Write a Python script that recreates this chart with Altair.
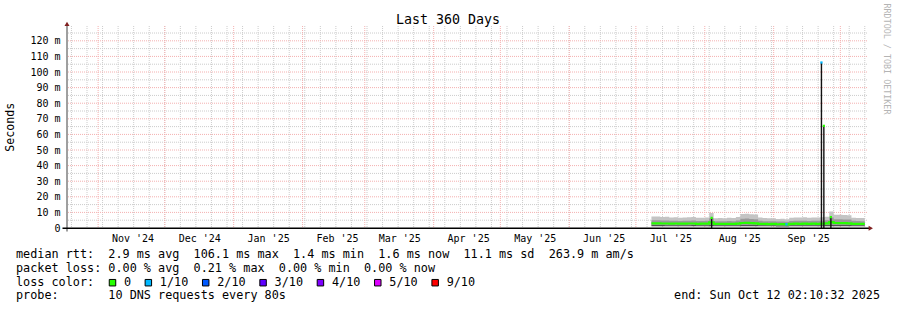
import altair as alt
import pandas as pd

FONT = "DejaVu Sans Mono"

# ---------------- data ----------------
dates = [
    "2025-07-08", "2025-07-10", "2025-07-12", "2025-07-14", "2025-07-16", "2025-07-18",
    "2025-07-20", "2025-07-22", "2025-07-24", "2025-07-26", "2025-07-28", "2025-07-30",
    "2025-08-01", "2025-08-03", "2025-08-05", "2025-08-07", "2025-08-09", "2025-08-11",
    "2025-08-13", "2025-08-15", "2025-08-17", "2025-08-19", "2025-08-21", "2025-08-23",
    "2025-08-25", "2025-08-27", "2025-08-29", "2025-08-31", "2025-09-02", "2025-09-04",
    "2025-09-06", "2025-09-08", "2025-09-10", "2025-09-12", "2025-09-14", "2025-09-16",
    "2025-09-18", "2025-09-20", "2025-09-22", "2025-09-24", "2025-09-26", "2025-09-28",
    "2025-09-30", "2025-10-02", "2025-10-04", "2025-10-06", "2025-10-08", "2025-10-10",
    "2025-10-12",
]
smoke_top_ms = [7.4, 7.3, 7.0, 7.2, 6.8, 6.9, 6.6, 6.8, 6.9, 7.0, 6.5, 6.6,
                6.8, 9.6, 6.2, 6.4, 6.3, 6.5, 6.4, 7.0, 9.0, 9.2, 8.8, 8.6,
                6.8, 6.4, 6.2, 6.3, 5.8, 6.0, 5.6, 6.6, 6.8, 6.7, 6.9, 6.6,
                6.8, 6.7, 6.9, 7.2, 10.6, 8.5, 8.5, 8.4, 8.2, 6.6, 6.4, 6.4, 6.4]
smoke_upper_ms = [5.0, 4.9, 4.8, 4.8, 4.6, 4.7, 4.5, 4.6, 4.7, 4.8, 4.5, 4.5,
                  4.6, 6.2, 4.3, 4.4, 4.4, 4.5, 4.4, 4.8, 5.9, 6.1, 5.8, 5.6,
                  4.6, 4.4, 4.3, 4.3, 4.1, 4.2, 4.0, 4.5, 4.6, 4.6, 4.7, 4.5,
                  4.6, 4.6, 4.7, 4.9, 6.8, 5.6, 5.6, 5.5, 5.4, 4.6, 4.5, 4.4, 4.5]
median_ms = [3.0, 3.0, 2.9, 2.9, 2.8, 2.9, 2.8, 2.8, 2.9, 2.9, 2.7, 2.8,
             2.8, 3.6, 2.6, 2.6, 2.7, 2.6, 2.6, 2.8, 3.2, 3.3, 3.1, 3.0,
             2.7, 2.6, 2.5, 2.6, 2.4, 2.5, 2.3, 2.7, 2.8, 2.7, 2.8, 2.7,
             2.8, 2.7, 2.8, 3.0, 3.8, 3.2, 3.1, 3.1, 3.0, 2.7, 2.6, 2.6, 2.6]
smoke_lower_ms = [1.9, 1.9, 1.9, 1.8, 1.8, 1.8, 1.8, 1.8, 1.8, 1.9, 1.8, 1.8,
                  1.8, 2.0, 1.7, 1.7, 1.7, 1.7, 1.7, 1.8, 1.9, 1.9, 1.9, 1.9,
                  1.8, 1.7, 1.7, 1.7, 1.6, 1.6, 1.6, 1.7, 1.8, 1.8, 1.8, 1.8,
                  1.8, 1.8, 1.8, 1.9, 2.0, 1.9, 1.9, 1.9, 1.9, 1.8, 1.8, 1.8, 1.8]
smoke_bottom_ms = [1.2, 1.2, 1.2, 1.2, 1.1, 1.1, 1.1, 1.1, 1.2, 1.2, 1.1, 1.1,
                   1.1, 1.2, 1.1, 1.1, 1.1, 1.1, 1.1, 1.1, 1.2, 1.2, 1.2, 1.2,
                   1.1, 1.1, 1.1, 1.1, 1.0, 1.0, 1.0, 1.1, 1.1, 1.1, 1.1, 1.1,
                   1.1, 1.1, 1.1, 1.2, 1.2, 1.2, 1.2, 1.2, 1.2, 1.1, 1.1, 1.1, 1.1]

spike_dates = ["2025-08-04T02:00:00Z", "2025-09-22T12:00:00Z",
               "2025-09-23T14:00:00Z", "2025-09-26T18:00:00Z", "2025-09-06T18:00:00Z"]
spike_top_ms = [6.5, 106.1, 65.5, 7.0, 2.4]
spike_loss_color = ["#26ff00", "#00b8ff", "#26ff00", "#26ff00", "#00b8ff"]
spike_is_line = [True, True, True, True, False]

y_label_ms = [0, 10, 20, 30, 40, 50, 60, 70, 80, 90, 100, 110, 120]
y_minor_ms = [5, 15, 25, 35, 45, 55, 65, 75, 85, 95, 105, 115, 125]
month_starts = ["2024-11-01", "2024-12-01", "2025-01-01", "2025-02-01", "2025-03-01",
                "2025-04-01", "2025-05-01", "2025-06-01", "2025-07-01", "2025-08-01",
                "2025-09-01", "2025-10-01"]
month_label_pos = [(2024, 11), (2024, 12), (2025, 1), (2025, 2), (2025, 3), (2025, 4),
                   (2025, 5), (2025, 6), (2025, 7), (2025, 8), (2025, 9)]

title_text = "Last 360 Days"
y_title = "Seconds"
watermark = "RRDTOOL / TOBI OETIKER"
legend_lines = [
    "median rtt:  2.9 ms avg  106.1 ms max  1.4 ms min  1.6 ms now  11.1 ms sd  263.9 m am/s",
    "packet loss: 0.00 % avg  0.21 % max  0.00 % min  0.00 % now",
    "loss color:",
    "probe:       10 DNS requests every 80s",
]
loss_labels = ["0", "1/10", "2/10", "3/10", "4/10", "5/10", "9/10"]
loss_colors = ["#26ff00", "#00b8ff", "#0059ff", "#5e00ff", "#7e00ff", "#dd00ff", "#ff0000"]
end_text = "end: Sun Oct 12 02:10:32 2025"

# ---------------- frames ----------------
W, H = 800, 202
PAD_L, PAD_T = 67, 26
NB = "\u00a0"
LEG_FS = 11.8


def abs_x(v):
    return v - PAD_L


def abs_y(v):
    return v - PAD_T


smoke = pd.DataFrame({
    "date": [d + "T00:00:00Z" for d in dates],
    "top": smoke_top_ms, "upper": smoke_upper_ms, "median": median_ms,
    "lower": smoke_lower_ms, "bottom": smoke_bottom_ms,
})
spikes = pd.DataFrame({"date": spike_dates, "top": spike_top_ms,
                       "c": spike_loss_color, "line": spike_is_line})
weeks = pd.DataFrame({"date": [d.strftime("%Y-%m-%dT00:00:00Z") for d in
                               pd.date_range("2024-10-20", "2025-10-12", freq="W-SUN")]})
months = pd.DataFrame({"date": [m + "T00:00:00Z" for m in month_starts]})
hmajor = pd.DataFrame({"ms": y_label_ms[1:]})
hminor = pd.DataFrame({"ms": y_minor_ms})

xscale = alt.Scale(type="utc",
                   domain=[alt.DateTime(year=2024, month=10, date=18, utc=True),
                           alt.DateTime(year=2025, month=10, date=13, utc=True)])
yscale = alt.Scale(domain=[0, 129.5], nice=False, zero=True)

xaxis = alt.Axis(
    values=[alt.DateTime(year=y, month=m, date=16, hours=12, utc=True) for y, m in month_label_pos],
    format="%b '%y", labelFont=FONT, labelFontSize=10, labelColor="#000000",
    tickSize=0, labelPadding=5, domain=False, grid=False, title=None,
)
yaxis = alt.Axis(
    values=y_label_ms,
    labelExpr="datum.value == 0 ? '0\u00a0' : datum.value + '\u00a0m'",
    labelFont=FONT, labelFontSize=10, labelColor="#000000",
    tickSize=0, labelPadding=7, domain=False, grid=False, title=None,
)


def X(field="date"):
    return alt.X(f"{field}:T", scale=xscale, axis=xaxis)


def Y(field):
    return alt.Y(f"{field}:Q", scale=yscale, axis=yaxis)


GRID = "#cccccc"
MGRID = "#f4b0b0"

l_vminor = alt.Chart(weeks).mark_rule(color=GRID, strokeDash=[1, 1], strokeWidth=1).encode(x=X())
l_hminor = alt.Chart(hminor).mark_rule(color=GRID, strokeDash=[1, 1], strokeWidth=1).encode(y=Y("ms"))
l_vmajor = alt.Chart(months).mark_rule(color=MGRID, strokeDash=[1, 1], strokeWidth=1).encode(x=X())
l_hmajor = alt.Chart(hmajor).mark_rule(color=MGRID, strokeDash=[1, 1], strokeWidth=1).encode(y=Y("ms"))

l_light = alt.Chart(smoke).mark_area(color="#c4c4c4", interpolate="step-after").encode(
    x=X(), y=Y("bottom"), y2="top:Q")
l_mid = alt.Chart(smoke).mark_area(color="#9a9a9a", interpolate="step-after").encode(
    x=X(), y=Y("lower"), y2="upper:Q")
l_dark = alt.Chart(smoke).mark_area(color="#555555", interpolate="step-after").encode(
    x=X(), y=Y("bottom"), y2="lower:Q")
l_median = alt.Chart(smoke).mark_line(color="#26ff00", strokeWidth=2.2, interpolate="step-after").encode(
    x=X(), y=Y("median"))

l_spike = alt.Chart(spikes).transform_filter("datum.line").transform_calculate(base="0").mark_rule(
    color="#111111", strokeWidth=1.4).encode(x=X(), y=Y("top"), y2="base:Q")
l_spike_top = alt.Chart(spikes).mark_square(size=5, opacity=1).encode(
    x=X(), y=Y("top"), color=alt.Color("c:N", scale=None))

one = pd.DataFrame({"t": [""]})


def text_layer(txt, x, y, size, **kw):
    return alt.Chart(pd.DataFrame({"t": [txt.replace(" ", NB)]})).mark_text(
        font=FONT, fontSize=size, color=kw.pop("color", "#000000"), **kw
    ).encode(text="t:N", x=alt.value(x), y=alt.value(y))


# axis lines and arrows
l_yaxis = alt.Chart(one).mark_rule(color="#404040", strokeWidth=1).encode(
    x=alt.value(0), y=alt.value(-1), y2=alt.value(H + 3.5))
l_xaxis = alt.Chart(one).mark_rule(color="#000000", strokeWidth=1.4).encode(
    x=alt.value(-4.5), x2=alt.value(W + 2), y=alt.value(H + 0.3))
l_arrow_up = alt.Chart(one).mark_point(shape="triangle-up", filled=True, size=25, opacity=1,
                                       color="#802020").encode(x=alt.value(0), y=alt.value(-2.2))
l_arrow_right = alt.Chart(one).mark_point(shape="triangle-right", filled=True, size=25, opacity=1,
                                          color="#802020").encode(x=alt.value(W + 3.8), y=alt.value(H + 0.3))

texts = [
    text_layer(title_text, abs_x(448), abs_y(23.5), 13.3, align="center", baseline="alphabetic"),
    text_layer(y_title, abs_x(14.3), abs_y(127.3), 11.6, align="center", baseline="alphabetic", angle=270),
    text_layer(watermark, abs_x(884), abs_y(3.5), 8.4, align="left", baseline="alphabetic",
               angle=90, color="#b4b4b4"),
    text_layer(end_text, abs_x(880), abs_y(299), LEG_FS, align="right", baseline="alphabetic"),
]
row_y = [258, 271.7, 285.5, 299]
for line, ry in zip(legend_lines, row_y):
    texts.append(text_layer(line, abs_x(16), abs_y(ry), LEG_FS, align="left", baseline="alphabetic"))

# loss colour legend boxes
box_x = []
cx = 112.5
for lab in loss_labels:
    box_x.append(cx)
    cx += (len(lab) + 4) * 7.17
loss_df = pd.DataFrame({"lab": loss_labels, "col": loss_colors,
                        "bx": [abs_x(v) for v in box_x],
                        "tx": [abs_x(v + 11.5) for v in box_x]})
l_boxes = alt.Chart(loss_df).mark_square(size=42, opacity=1, stroke="#000000", strokeWidth=1).encode(
    x=alt.X("bx:Q", scale=None), y=alt.value(abs_y(282.7)),
    fill=alt.Fill("col:N", scale=None))
l_box_text = alt.Chart(loss_df).mark_text(font=FONT, fontSize=LEG_FS, align="left",
                                          baseline="alphabetic", color="#000000").encode(
    x=alt.X("tx:Q", scale=None), y=alt.value(abs_y(285.5)), text="lab:N")

chart = alt.layer(
    l_vminor, l_hminor, l_vmajor, l_hmajor,
    l_light, l_mid, l_dark, l_median, l_spike, l_spike_top,
    l_yaxis, l_xaxis, l_arrow_up, l_arrow_right,
    *texts, l_boxes, l_box_text,
).properties(
    width=W, height=H,
    padding={"left": PAD_L, "top": PAD_T, "right": 897 - PAD_L - W, "bottom": 310 - PAD_T - H},
    autosize=alt.AutoSizeParams(type="none"),
    background="#ffffff",
).configure_view(stroke=None)

chart.save("out.html", embed_options={"renderer": "svg", "actions": False})
